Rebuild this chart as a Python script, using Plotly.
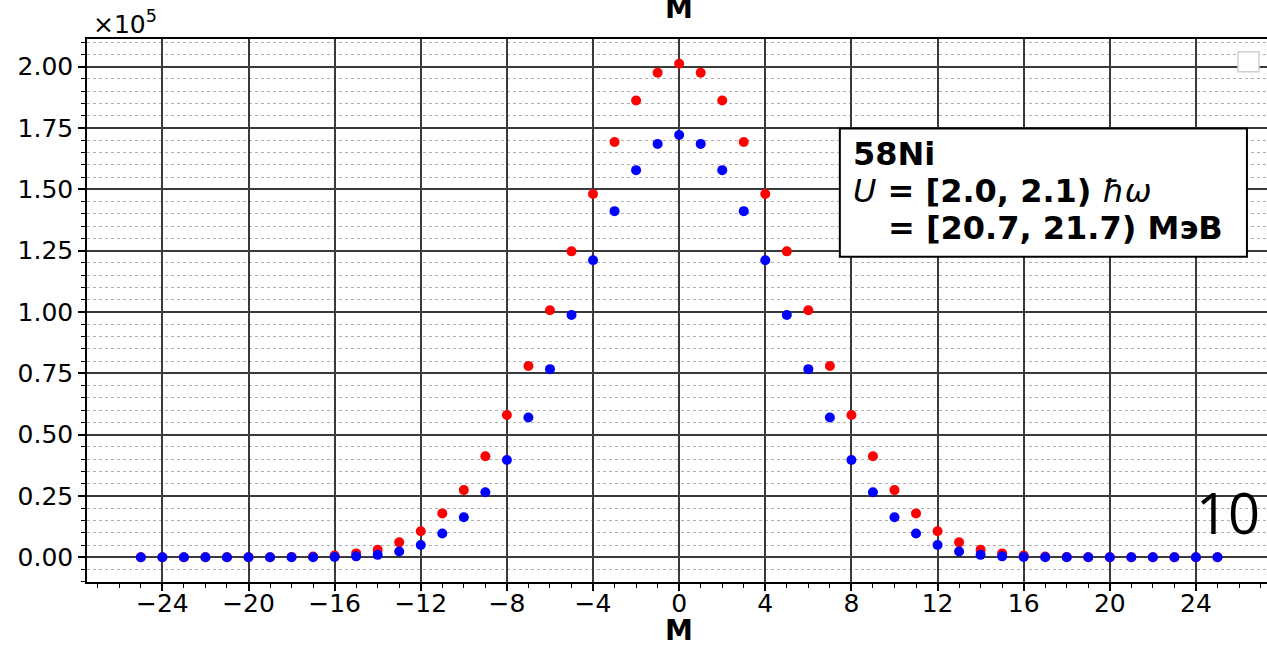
import plotly.graph_objects as go

# Data (values in units of 1e5)
M = list(range(-25, 26))
red = [0, 0, 0, 0, 0, 0, 0, 0.001, 0.003, 0.007, 0.016, 0.031, 0.061, 0.106, 0.179, 0.274,
       0.412, 0.580, 0.780, 1.007, 1.247, 1.481, 1.693, 1.862, 1.975, 2.012,
       1.975, 1.862, 1.693, 1.481, 1.247, 1.007, 0.780, 0.580, 0.412, 0.274, 0.179,
       0.106, 0.061, 0.031, 0.016, 0.007, 0.003, 0.001, 0, 0, 0, 0, 0, 0, 0]
blue = [0, 0, 0, 0, 0, 0, 0, 0, 0, 0.001, 0.004, 0.010, 0.024, 0.050, 0.097, 0.163,
        0.265, 0.397, 0.570, 0.767, 0.988, 1.211, 1.411, 1.578, 1.685, 1.721,
        1.685, 1.578, 1.411, 1.211, 0.988, 0.767, 0.570, 0.397, 0.265, 0.163, 0.097,
        0.050, 0.024, 0.010, 0.004, 0.001, 0, 0, 0, 0, 0, 0, 0, 0, 0]

FONT = "DejaVu Sans"

fig = go.Figure()
fig.add_trace(go.Scatter(x=M, y=red, mode="markers",
                         marker=dict(color="#ff0000", size=10, line=dict(width=0)),
                         showlegend=False))
fig.add_trace(go.Scatter(x=M, y=blue, mode="markers",
                         marker=dict(color="#0000ff", size=10, line=dict(width=0)),
                         showlegend=False))

fig.update_layout(
    width=1267, height=645,
    margin=dict(l=87, r=0, t=39, b=63, autoexpand=False),
    paper_bgcolor="white", plot_bgcolor="white",
    font=dict(family=FONT, color="black", size=25),
    showlegend=False,
)

fig.update_xaxes(
    range=[-27.5, 27.3], tickmode="linear", tick0=0, dtick=4,
    ticks="outside", ticklen=7, tickwidth=1.5, tickcolor="black",
    showline=True, linecolor="black", linewidth=1.5, mirror=True,
    showgrid=True, gridcolor="#3a3a3a", gridwidth=1.5, zeroline=False,
    minor=dict(tick0=0, dtick=1, ticks="outside", ticklen=4, tickwidth=1,
               tickcolor="black", showgrid=False),
    tickfont=dict(size=25, family=FONT), automargin=False, ticklabelstandoff=-9,
)
fig.update_yaxes(
    range=[-0.1006, 2.1126], tickmode="linear", tick0=0, dtick=0.25, tickformat=".2f",
    ticks="outside", ticklen=7, tickwidth=1.5, tickcolor="black",
    showline=True, linecolor="black", linewidth=1.5, mirror=False,
    showgrid=True, gridcolor="#3a3a3a", gridwidth=1.5, zeroline=False,
    minor=dict(tick0=0, dtick=0.05, ticks="outside", ticklen=4, tickwidth=1,
               tickcolor="black", showgrid=True, griddash="dot",
               gridcolor="#b0b0b0", gridwidth=1),
    tickfont=dict(size=25, family=FONT), automargin=False,
)

# info box
fig.add_shape(type="rect", xref="paper", yref="paper",
              x0=0.638, x1=0.983, y0=0.599, y1=0.835,
              line=dict(color="black", width=2), fillcolor="white", layer="above")
# empty legend box
fig.add_shape(type="rect", xref="paper", yref="paper",
              x0=0.9754, x1=0.9932, y0=0.9397, y1=0.9766,
              line=dict(color="#d0d0d0", width=1.5), fillcolor="white", layer="above")

ann_font = dict(family=FONT, size=32, color="black")
fig.add_annotation(xref="paper", yref="paper", x=(851 - 87) / 1180, y=(582 - 154) / 542.7,
                   xanchor="left", yanchor="middle", showarrow=False,
                   text="<b>58Ni</b>", font=ann_font)
fig.add_annotation(xref="paper", yref="paper", x=(851 - 87) / 1180, y=(582 - 191) / 542.7,
                   xanchor="left", yanchor="middle", showarrow=False,
                   text="<i>U</i><b> = [2.0, 2.1) </b><i>ħω</i>", font=ann_font)
fig.add_annotation(xref="paper", yref="paper", x=(886 - 87) / 1180, y=(582 - 228) / 542.7,
                   xanchor="left", yanchor="middle", showarrow=False,
                   text="<b>= [20.7, 21.7) МэВ</b>", font=ann_font)

# multiplier
fig.add_annotation(xref="paper", yref="paper", x=0.003, y=1, xanchor="left", yanchor="bottom",
                   yshift=-2, showarrow=False, text="×10<sup>5</sup>",
                   font=dict(family=FONT, size=25, color="black"))
# top title (cut off in the reference)
fig.add_annotation(xref="x", yref="paper", x=0, y=(582 - 9) / 542.7,
                   xanchor="center", yanchor="middle", showarrow=False, borderpad=0,
                   text="M", font=dict(family=FONT, size=28, color="black", weight="bold"))
# x-axis title
fig.add_annotation(xref="x", yref="paper", x=0, y=(582 - 630) / 542.7,
                   xanchor="center", yanchor="middle", showarrow=False, borderpad=0,
                   text="M", font=dict(family=FONT, size=28, color="black", weight="bold"))
# stray "10"
fig.add_annotation(xref="paper", yref="paper", x=(1228 - 87) / 1180, y=(582 - 512) / 542.7,
                   xanchor="center", yanchor="middle", showarrow=False,
                   text="10", font=dict(family="Open Sans", size=56, color="black"))

fig.write_html("out.html", config={"displayModeBar": False},
               post_script="document.body.style.margin='0';document.body.style.overflow='hidden';")
